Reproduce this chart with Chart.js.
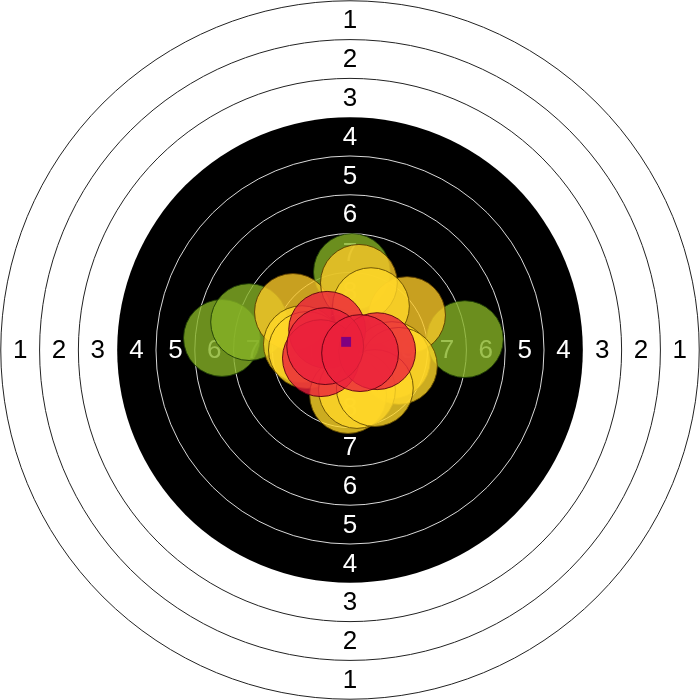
<!DOCTYPE html>
<html>
<head>
<meta charset="utf-8">
<script src="https://cdn.jsdelivr.net/npm/chart.js@4"></script>
<style>
  html, body { margin: 0; padding: 0; background: #fff; }
  #wrap { width: 700px; height: 700px; }
</style>
</head>
<body>
<div id="wrap"><canvas id="target"></canvas></div>
<script>
// target units: one ring = 1 unit, ring 1 outer edge at 9
const ringScores = [1, 2, 3, 4, 5, 6, 7, 8, 9];
const ringLabels = ["1", "2", "3", "4", "5", "6", "7", "8"];
const blackFrom = 4; // rings 4.. are on black

// shots, in draw order (low score first)
const shotX = [-3.30, -2.60, 2.96, 0.05, -1.47, 1.47, 0.23, 0.54, -1.24, -1.11, 1.08, 1.26, -0.05, 0.18, 0.64, -0.59, -0.75, 0.70, -0.64, 0.26];
const shotY = [0.31, 0.72, 0.28, 2.01, 0.98, 0.90, 1.73, 1.13, 0.15, 0.00, -0.26, -0.41, -1.16, -1.03, -0.98, 0.52, -0.21, -0.03, 0.10, -0.08];
const shotGroup = ["green", "green", "green", "green", "gold", "gold", "gold", "yellow", "yellow", "yellow", "yellow", "yellow", "yellow", "yellow", "yellow", "red", "red", "red", "red", "red"];

// mean point of impact
const centerX = [-0.10];
const centerY = [0.21];

const EXTENT = 9.02;
const SHOT_R = 0.99;

const groupFill = {
  green: "rgba(134, 178, 38, 0.8)",
  gold: "rgba(250, 200, 40, 0.8)",
  yellow: "rgba(255, 215, 40, 0.8)",
  red: "rgba(235, 32, 60, 0.8)",
};
const groupBorder = {
  green: "rgba(30, 60, 5, 0.9)",
  gold: "rgba(90, 60, 0, 0.9)",
  yellow: "rgba(100, 75, 0, 0.9)",
  red: "rgba(90, 0, 15, 0.9)",
};

function unitPx(chart) {
  const sx = chart.scales.x;
  return Math.abs(sx.getPixelForValue(1) - sx.getPixelForValue(0));
}

// draws the target face under the shots
const targetFace = {
  id: "targetFace",
  beforeDatasetsDraw(chart) {
    const ctx = chart.ctx;
    const cx = chart.scales.x.getPixelForValue(0);
    const cy = chart.scales.y.getPixelForValue(0);
    const u = unitPx(chart);
    const n = ringScores.length;

    ctx.save();
    // black part
    ctx.beginPath();
    ctx.arc(cx, cy, (n + 1 - blackFrom) * u, 0, Math.PI * 2);
    ctx.fillStyle = "#000";
    ctx.fill();

    // ring lines
    ringScores.forEach((score) => {
      const r = (n + 1 - score) * u;
      if (score === blackFrom) return;
      ctx.beginPath();
      ctx.arc(cx, cy, r, 0, Math.PI * 2);
      ctx.lineWidth = 1;
      ctx.strokeStyle = score < blackFrom ? "#222" : "rgba(255,255,255,0.85)";
      ctx.stroke();
    });

    // ring numbers
    ctx.font = "26px 'Liberation Sans', Arial, sans-serif";
    ctx.textAlign = "center";
    ctx.textBaseline = "middle";
    ringLabels.forEach((label, i) => {
      const score = i + 1;
      const r = (n + 0.5 - score) * u;
      ctx.fillStyle = score < blackFrom ? "#000" : "#fff";
      ctx.fillText(label, cx, cy - r + 1);
      ctx.fillText(label, cx, cy + r + 1);
      ctx.fillText(label, cx - r, cy + 1);
      ctx.fillText(label, cx + r, cy + 1);
    });
    ctx.restore();
  },
};

const shots = shotX.map((x, i) => ({ x: x, y: shotY[i] }));
const center = centerX.map((x, i) => ({ x: x, y: centerY[i] }));

new Chart(document.getElementById("target"), {
  type: "scatter",
  data: {
    datasets: [
      {
        label: "Shots",
        data: shots,
        pointRadius: (c) => SHOT_R * unitPx(c.chart),
        pointHoverRadius: (c) => SHOT_R * unitPx(c.chart),
        backgroundColor: (c) => groupFill[shotGroup[c.dataIndex]],
        borderColor: (c) => groupBorder[shotGroup[c.dataIndex]],
        borderWidth: 1,
        order: 2,
      },
      {
        label: "Center",
        data: center,
        pointStyle: "rect",
        pointRadius: 7,
        backgroundColor: "#800080",
        borderWidth: 0,
        order: 1,
      },
    ],
  },
  options: {
    responsive: true,
    maintainAspectRatio: false,
    animation: false,
    events: [],
    layout: { padding: 0, autoPadding: false },
    scales: {
      x: { type: "linear", min: -EXTENT, max: EXTENT, display: false },
      y: { type: "linear", min: -EXTENT, max: EXTENT, display: false },
    },
    plugins: {
      legend: { display: false },
      tooltip: { enabled: false },
    },
  },
  plugins: [targetFace],
});
</script>
</body>
</html>
